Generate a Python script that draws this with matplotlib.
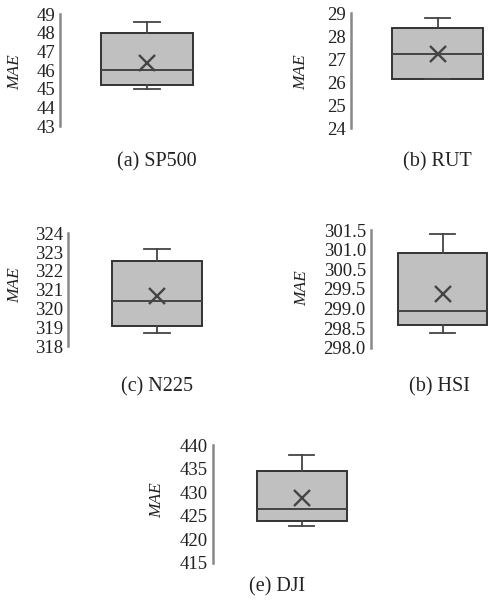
import numpy as np
import matplotlib
matplotlib.use("Agg")
import matplotlib.pyplot as plt

plt.rcParams['font.family'] = ['Liberation Serif', 'DejaVu Serif']

W, H = 488, 601

# five-number summaries + mean
names = ["SP500", "RUT", "N225", "HSI", "DJI"]
captions = ["(a) SP500", "(b) RUT", "(c) N225", "(b) HSI", "(e) DJI"]
whislo = [45.0, 26.15, 318.7, 298.43, 422.7]
q1 = [45.2, 26.15, 319.05, 298.68, 423.8]
med = [46.0, 27.25, 320.4, 299.1, 426.3]
q3 = [48.0, 28.35, 322.5, 300.82, 434.5]
whishi = [48.55, 28.8, 323.15, 301.38, 437.9]
means = [46.4, 27.25, 320.65, 299.6, 428.8]

ylims = [(43, 49), (24, 29), (318, 324), (298.0, 301.5), (415, 440)]
tick_vals = [
    np.arange(43, 50, 1),
    np.arange(24, 30, 1),
    np.arange(318, 325, 1),
    np.linspace(298.0, 301.5, 7),
    np.arange(415, 445, 5),
]
tick_labels = [
    None, None, None,
    ["298.0", "298.5", "299.0", "299.5", "300.5", "301.0", "301.5"],
    None,
]

# layout in pixels: spine x, top y, bottom y, box centre x, box width, label xy, caption xy
layout = [
    dict(left=60, top=14, bot=126, cx=147, bw=92, lab=(15, 72), cap=(157, 162)),
    dict(left=351, top=13.3, bot=128.3, cx=437.5, bw=91, lab=(301, 72), cap=(437, 162)),
    dict(left=68, top=233.3, bot=346, cx=157, bw=90, lab=(15, 285), cap=(157, 387)),
    dict(left=370.7, top=230, bot=347.7, cx=442.5, bw=89, lab=(302, 288), cap=(439, 387)),
    dict(left=212.7, top=445, bot=562.7, cx=301.5, bw=90, lab=(157, 500), cap=(277, 587)),
]

fig = plt.figure(figsize=(W / 100, H / 100), dpi=100)

for i, lo in enumerate(layout):
    width_px = 150
    ax = fig.add_axes([lo["left"] / W, 1 - lo["bot"] / H,
                       width_px / W, (lo["bot"] - lo["top"]) / H])
    stats = [dict(med=med[i], q1=q1[i], q3=q3[i], whislo=whislo[i],
                  whishi=whishi[i], mean=means[i], fliers=[])]
    ax.bxp(stats, positions=[lo["cx"] - lo["left"]], widths=lo["bw"],
           showmeans=True, patch_artist=True, manage_ticks=False,
           boxprops=dict(facecolor="#c0c0c0", edgecolor="#333333", linewidth=1.4),
           medianprops=dict(color="#444444", linewidth=1.4),
           whiskerprops=dict(color="#444444", linewidth=1.3),
           capprops=dict(color="#444444", linewidth=1.3),
           capwidths=lo["bw"] * 0.28,
           meanprops=dict(marker="x", markersize=11, markeredgecolor="#444444",
                          markeredgewidth=1.7))
    ax.set_xlim(0, width_px)
    ax.set_ylim(*ylims[i])
    ax.set_yticks(tick_vals[i])
    if tick_labels[i] is not None:
        ax.set_yticklabels(tick_labels[i])
    ax.tick_params(axis="y", length=0, pad=3.5, labelsize=13.5, labelcolor="#222222")
    ax.set_xticks([])
    for s in ["top", "right", "bottom"]:
        ax.spines[s].set_visible(False)
    ax.spines["left"].set_color("#888888")
    ax.spines["left"].set_linewidth(1.8)
    ax.patch.set_visible(False)
    for a in ax.get_children():
        if hasattr(a, "set_clip_on"):
            a.set_clip_on(False)

    fig.text(lo["lab"][0] / W, 1 - lo["lab"][1] / H, "MAE", rotation=90,
             style="italic", fontsize=12.5, color="#222222", ha="center", va="center")
    fig.text(lo["cap"][0] / W, 1 - lo["cap"][1] / H, captions[i],
             fontsize=14.5, color="#222222", ha="center", va="center")

fig.savefig("out.png", dpi=100)
